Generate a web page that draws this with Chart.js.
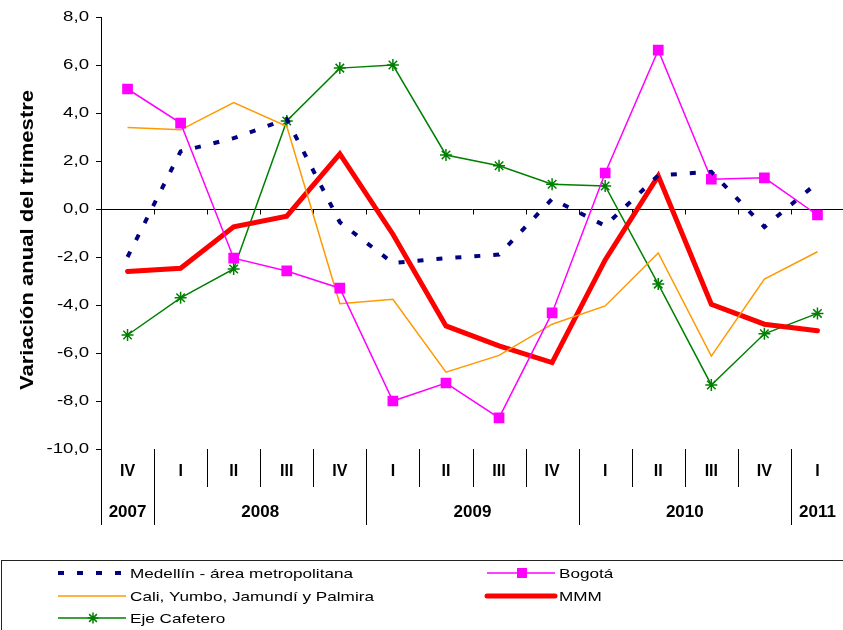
<!DOCTYPE html>
<html>
<head>
<meta charset="utf-8">
<script src="https://cdn.jsdelivr.net/npm/chart.js@4"></script>
<style>
  html, body { margin: 0; padding: 0; background: #fff; overflow: hidden; }
  #wrap { width: 843px; height: 630px; overflow: hidden; }
</style>
</head>
<body>
<div id="wrap"><canvas id="chart" width="852" height="630"></canvas></div>
<script>
// categories
const quarters = ['IV', 'I', 'II', 'III', 'IV', 'I', 'II', 'III', 'IV', 'I', 'II', 'III', 'IV', 'I'];
const yearOf = ['2007', '2008', '2008', '2008', '2008', '2009', '2009', '2009', '2009',
                '2010', '2010', '2010', '2010', '2011'];
const yTicks = [-10, -8, -6, -4, -2, 0, 2, 4, 6, 8];

// series (variación anual, %)
const medellin = [-2.0, 2.4, 2.95, 3.75, -0.55, -2.25, -2.05, -1.9, 0.42, -0.7, 1.4, 1.55, -0.75, 1.1];
const bogota   = [5.0, 3.58, -2.05, -2.58, -3.3, -8.0, -7.25, -8.7, -4.33, 1.5, 6.62, 1.24, 1.3, -0.25];
const cali     = [3.4, 3.3, 4.43, 3.45, -3.95, -3.76, -6.8, -6.1, -4.8, -4.04, -1.83, -6.13, -2.92, -1.78];
const mmm      = [-2.6, -2.47, -0.74, -0.3, 2.3, -1.05, -4.87, -5.7, -6.4, -2.12, 1.38, -3.97, -4.8, -5.07];
const eje      = [-5.25, -3.7, -2.5, 3.67, 5.87, 6.0, 2.25, 1.8, 1.03, 0.96, -3.13, -7.33, -5.2, -4.35];

const FONT = "'Liberation Sans', Arial, sans-serif";

// the original picture has its text a bit wider than normal, so stretch it
function wideText(ctx, text, x, y, sx, align) {
  ctx.save();
  ctx.translate(x, y);
  ctx.scale(sx, 1);
  ctx.textAlign = align;
  ctx.fillText(text, 0, 0);
  ctx.restore();
}

// axis below the plot: quarter labels, year labels, separators + zero line
const bottomAxis = {
  id: 'bottomAxis',
  beforeDatasetsDraw(chart) {
    const ctx = chart.ctx;
    const x = chart.scales.x, y = chart.scales.y;
    const area = chart.chartArea;
    const y0 = Math.round(y.getPixelForValue(0)) + 0.5;
    const half = (x.getPixelForValue(1) - x.getPixelForValue(0)) / 2;

    ctx.save();
    ctx.strokeStyle = '#000';
    ctx.lineWidth = 1;

    // zero line with little ticks
    ctx.beginPath();
    ctx.moveTo(area.left, y0);
    ctx.lineTo(area.right, y0);
    for (let i = 1; i <= quarters.length; i++) {
      const bx = Math.round(x.getPixelForValue(i) - half) + 0.5;
      ctx.moveTo(bx, y0);
      ctx.lineTo(bx, y0 + 5);
    }
    ctx.stroke();

    // separators under the plot
    const top = area.bottom;
    ctx.beginPath();
    const lx = Math.round(area.left) + 0.5;
    ctx.moveTo(lx, top);
    ctx.lineTo(lx, top + 76);
    for (let i = 1; i < quarters.length; i++) {
      const bx = Math.round(x.getPixelForValue(i) - half) + 0.5;
      const len = yearOf[i] !== yearOf[i - 1] ? 76 : 38;
      ctx.moveTo(bx, top);
      ctx.lineTo(bx, top + len);
    }
    ctx.stroke();

    ctx.fillStyle = '#000';
    ctx.textAlign = 'center';
    ctx.textBaseline = 'middle';
    ctx.font = 'bold 16px ' + FONT;
    quarters.forEach((q, i) => {
      ctx.fillText(q, x.getPixelForValue(i), top + 23);
    });

    // year labels centred on their group of quarters
    ctx.font = 'bold 17px ' + FONT;
    let start = 0;
    for (let i = 1; i <= yearOf.length; i++) {
      if (i === yearOf.length || yearOf[i] !== yearOf[start]) {
        const cx = (x.getPixelForValue(start) + x.getPixelForValue(i - 1)) / 2;
        ctx.fillText(yearOf[start], cx, top + 63);
        start = i;
      }
    }

    // y tick labels
    ctx.font = '14px ' + FONT;
    yTicks.forEach(v => {
      wideText(ctx, v.toFixed(1).replace('.', ','), area.left - 12, y.getPixelForValue(v), 1.33, 'right');
    });

    // y title
    ctx.font = 'bold 19px ' + FONT;
    ctx.translate(28, 240);
    ctx.rotate(-Math.PI / 2);
    wideText(ctx, 'Variación anual del trimestre', 0, 0, 1.16, 'center');
    ctx.restore();
  }
};

// boxed legend at the bottom, two columns
const boxLegend = {
  id: 'boxLegend',
  afterDraw(chart) {
    const ctx = chart.ctx;
    const sets = chart.data.datasets;
    const cols = [58, 487];
    const rows = [573, 596, 618];
    ctx.save();
    ctx.strokeStyle = '#222';
    ctx.lineWidth = 1;
    ctx.strokeRect(1.5, 560.5, 900, 100);

    sets.forEach((ds, i) => {
      const cx = cols[i % 2], cy = rows[Math.floor(i / 2)];
      ctx.save();
      ctx.strokeStyle = ds.borderColor;
      ctx.lineWidth = ds.borderWidth;
      ctx.lineCap = ds.borderCapStyle || 'butt';
      ctx.setLineDash(ds.borderDash || []);
      ctx.beginPath();
      ctx.moveTo(cx, cy);
      ctx.lineTo(cx + 68, cy);
      ctx.stroke();
      ctx.setLineDash([]);
      if (ds.pointRadius) {
        ctx.fillStyle = ds.pointBackgroundColor;
        ctx.strokeStyle = ds.pointBorderColor;
        ctx.lineWidth = 1.5;
        Chart.helpers.drawPoint(ctx, {
          pointStyle: ds.pointStyle, radius: ds.pointRadius - 0.5, rotation: 0, borderWidth: 1.5
        }, cx + 35, cy);
      }
      ctx.restore();
      ctx.fillStyle = '#000';
      ctx.font = '13.5px ' + FONT;
      ctx.textBaseline = 'middle';
      wideText(ctx, ds.label, cx + 72, cy + 1, 1.27, 'left');
    });
    ctx.restore();
  }
};

const line = (label, data, color, width, extra) => Object.assign({
  label: label,
  data: data,
  borderColor: color,
  backgroundColor: color,
  borderWidth: width,
  pointRadius: 0,
  tension: 0,
  fill: false
}, extra || {});

new Chart(document.getElementById('chart'), {
  type: 'line',
  data: {
    labels: quarters.map((q, i) => q + ' ' + yearOf[i]),
    datasets: [
      line('Medellín - área metropolitana', medellin, '#000080', 4, { borderDash: [6, 13] }),
      line('Bogotá', bogota, '#ff00ff', 1.5, {
        pointStyle: 'rect', pointRadius: 6.5, pointBackgroundColor: '#ff00ff', pointBorderColor: '#ff00ff'
      }),
      line('Cali, Yumbo, Jamundí y Palmira', cali, '#ff9900', 1.5),
      line('MMM', mmm, '#ff0000', 5, { borderCapStyle: 'round' }),
      line('Eje Cafetero', eje, '#008000', 1.5, {
        pointStyle: 'star', pointRadius: 6, pointBorderWidth: 1.5,
        pointBackgroundColor: '#008000', pointBorderColor: '#008000'
      })
    ]
  },
  options: {
    responsive: false,
    animation: false,
    layout: { padding: { left: 0, top: 17, right: 3, bottom: 181 } },
    plugins: { legend: { display: false }, tooltip: { enabled: false } },
    scales: {
      x: { type: 'category', display: false, offset: true },
      y: {
        min: -10,
        max: 8,
        afterBuildTicks: s => { s.ticks = yTicks.map(v => ({ value: v })); },
        afterFit: s => { s.width = 101; },
        ticks: { display: false },
        grid: { drawOnChartArea: false, drawTicks: true, tickLength: 5, color: '#000' },
        border: { color: '#000', width: 1 }
      }
    }
  },
  plugins: [bottomAxis, boxLegend]
});
</script>
</body>
</html>
